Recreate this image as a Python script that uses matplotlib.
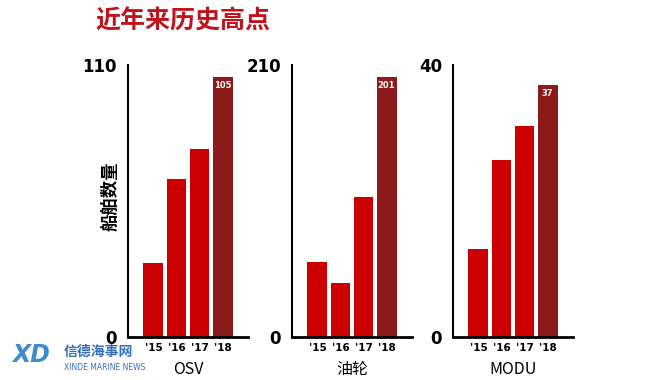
import matplotlib
matplotlib.use('Agg')
import matplotlib.pyplot as plt

plt.rcParams['font.family'] = ['DejaVu Sans', 'Noto Sans CJK SC']
plt.rcParams['axes.unicode_minus'] = False

# 数据
years = ["'15", "'16", "'17", "'18"]
osv = [30, 64, 76, 105]
tanker = [58, 42, 108, 201]
modu = [13, 26, 31, 37]
names = ['OSV', '油轮', 'MODU']
ymax = [110, 210, 40]

bright = '#cc0000'
dark = '#8b1a1a'
cjk = ['Noto Sans CJK SC', 'DejaVu Sans']

fig = plt.figure(figsize=(6.7, 3.8), dpi=100)
fig.patch.set_facecolor('white')

lefts = [128 / 670, 292 / 670, 453 / 670]
series = [osv, tanker, modu]

for i, vals in enumerate(series):
    ax = fig.add_axes([lefts[i], 43 / 380, 120 / 670, 272 / 380])
    x = range(len(years))
    colors = [bright] * 3 + [dark]
    ax.bar(x, vals, width=0.86, color=colors)
    ax.set_xlim(-1.1, 4.1)
    ax.set_ylim(0, ymax[i])
    ax.set_yticks([0, ymax[i]])
    ax.set_yticklabels(['0', str(ymax[i])], fontsize=12, fontweight='bold')
    ax.set_xticks(list(x))
    ax.set_xticklabels(years, fontsize=7.5, fontweight='bold')
    ax.tick_params(length=0, pad=4)
    ax.tick_params(axis='y', pad=8)
    for s in ['top', 'right']:
        ax.spines[s].set_visible(False)
    ax.spines['left'].set_linewidth(1.5)
    ax.spines['bottom'].set_linewidth(2)
    ax.set_xlabel(names[i], family=cjk, fontsize=11.5, fontweight='medium', labelpad=6)
    ax.text(3, vals[3] - ymax[i] * 0.015, str(vals[3]), ha='center', va='top',
            color='white', fontsize=6, fontweight='bold')

fig.text(110 / 670, 1 - 196 / 380, '船舶数量', family=cjk, fontsize=12.5, fontweight='bold',
         rotation=90, va='center', ha='center')

fig.text(95 / 670, 1 - 21 / 380, '近年来历史高点', family=cjk, fontsize=18,
         fontweight='bold', color='#c0141c', va='center', ha='left')

# 水印
fig.text(12 / 670, 1 - 355 / 380, 'XD', fontsize=17, fontweight='bold', style='italic',
         color='#2a7fc9', va='center', ha='left', alpha=0.9)
fig.text(64 / 670, 1 - 352 / 380, '信德海事网', family=cjk, fontsize=10, fontweight='bold',
         color='#1f5fb4', va='center', ha='left', alpha=0.9)
fig.text(64 / 670, 1 - 367 / 380, 'XINDE MARINE NEWS', fontsize=5.5,
         color='#1f5fb4', va='center', ha='left', alpha=0.9)

plt.savefig('out.png', dpi=100)
